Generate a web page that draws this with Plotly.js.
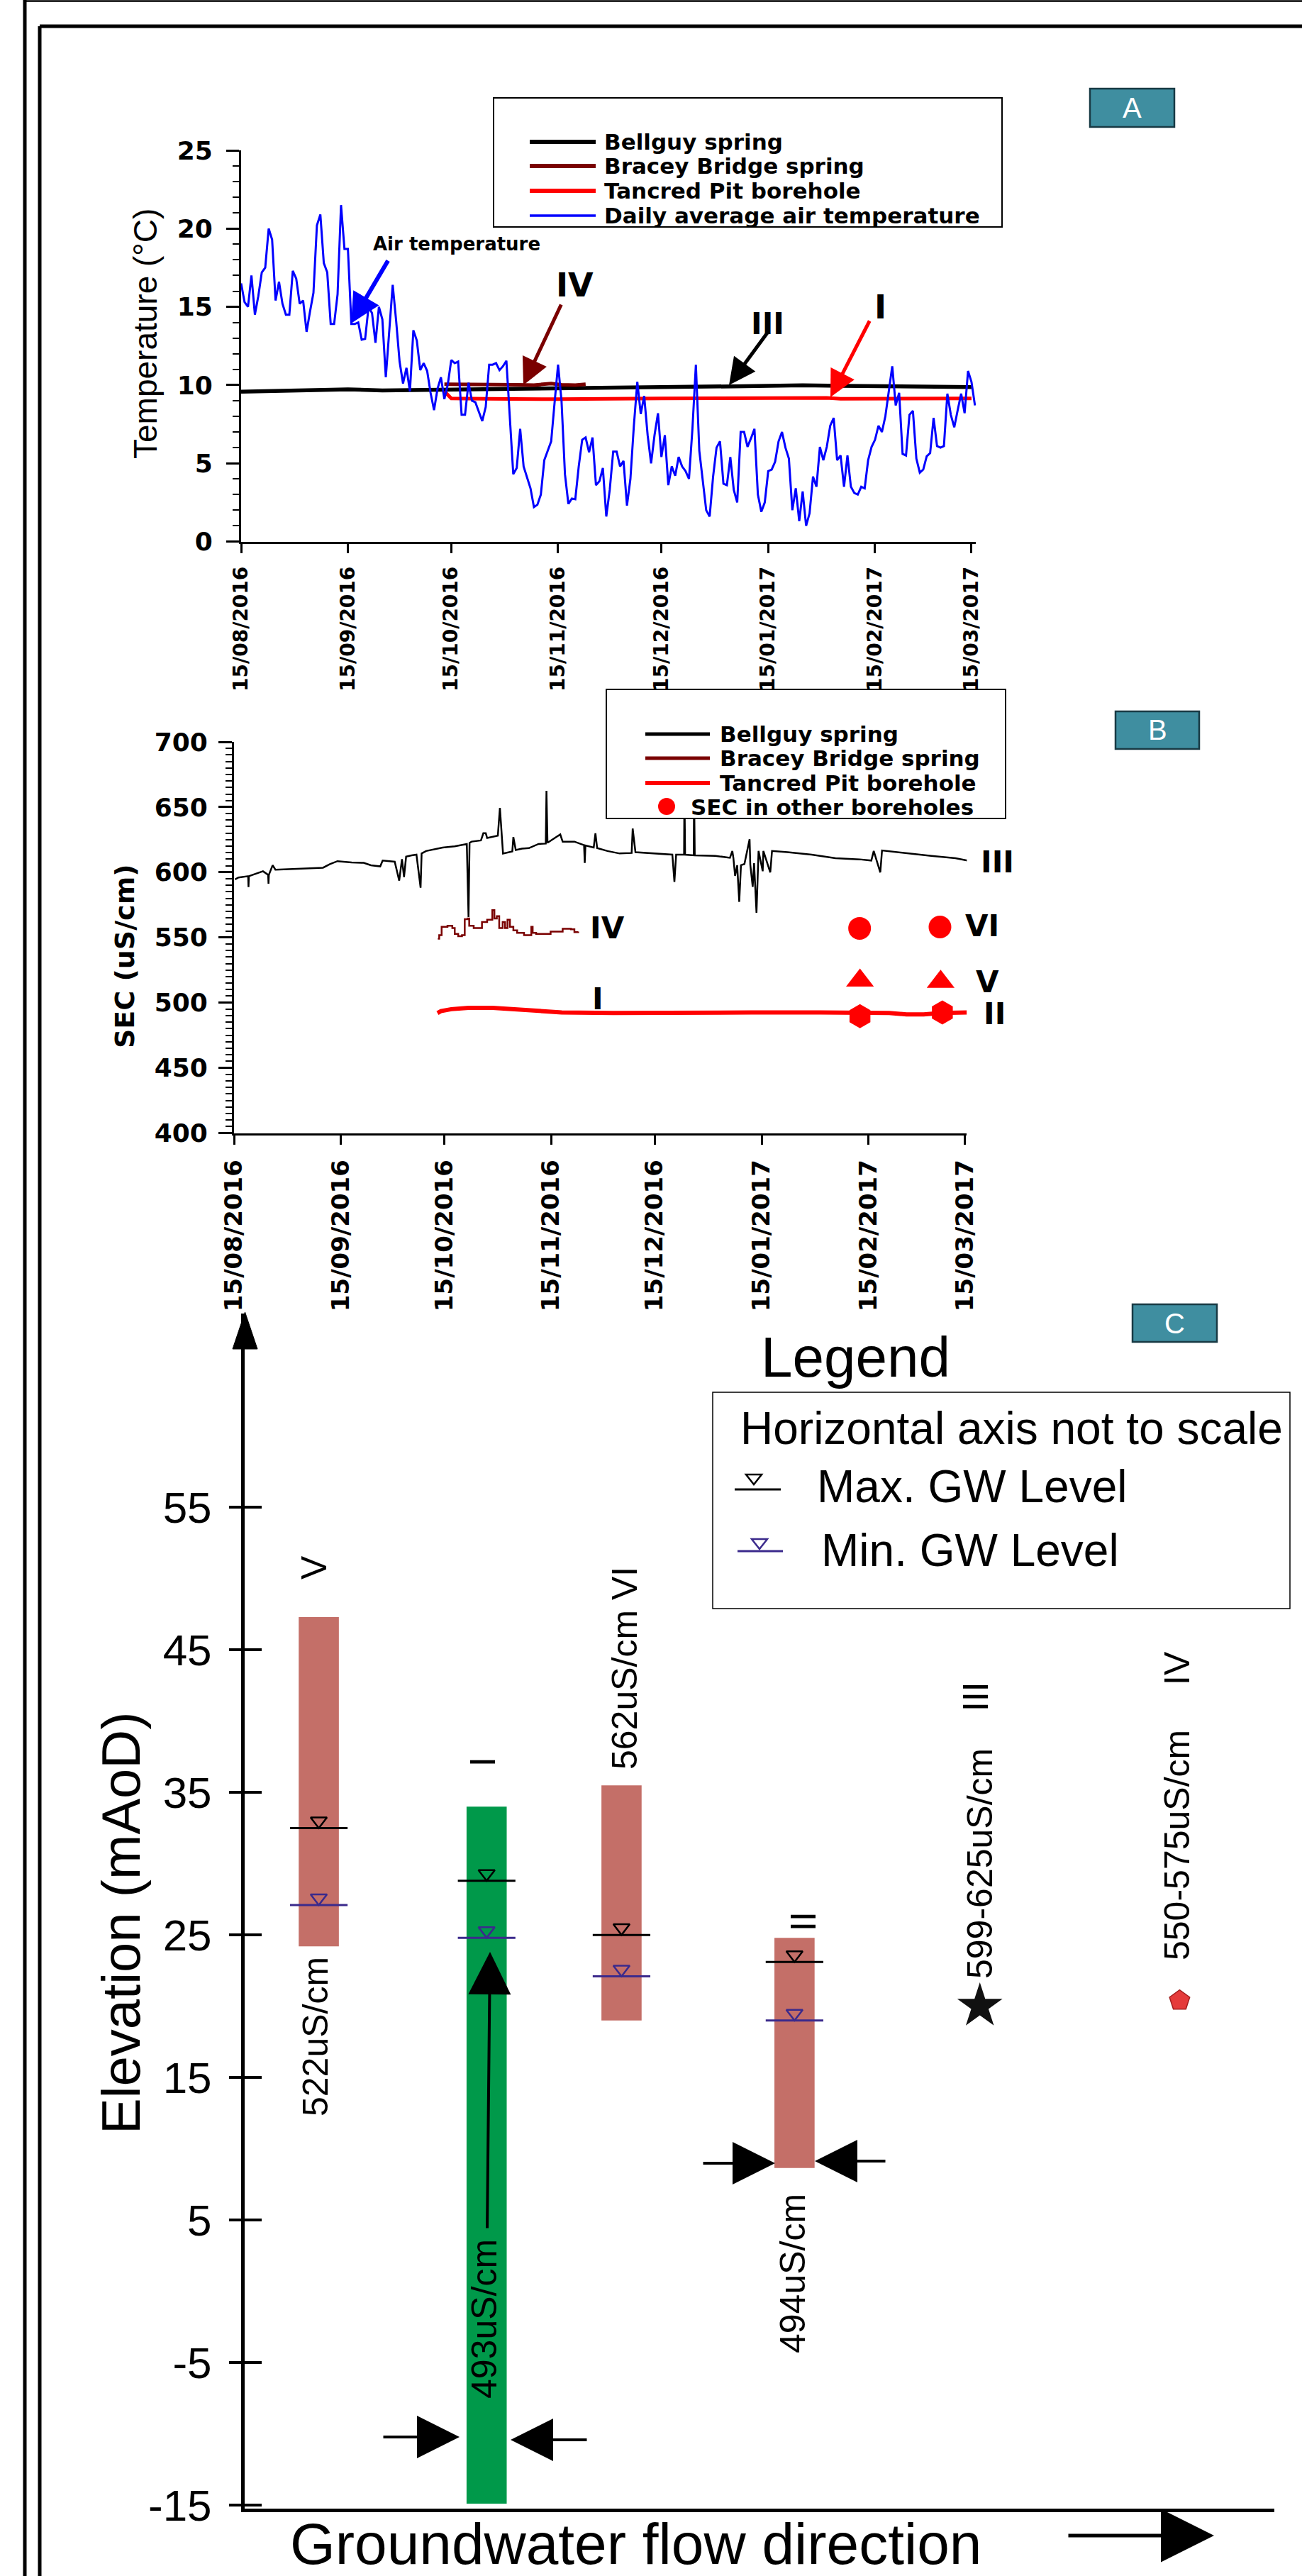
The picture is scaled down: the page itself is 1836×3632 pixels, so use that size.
<!DOCTYPE html>
<html><head><meta charset="utf-8">
<script src="https://cdn.plot.ly/plotly-3.0.1.min.js"></script>
<style>html,body{margin:0;padding:0;background:#fff}#chart{width:1836px;height:3632px}</style>
</head><body><div id="chart"></div>
<script>
// ---------------- DATA ----------------
const dateTickVals = ['2016-08-15','2016-09-15','2016-10-15','2016-11-15','2016-12-15','2017-01-15','2017-02-15','2017-03-15'];
const dateTickText = ['15/08/2016','15/09/2016','15/10/2016','15/11/2016','15/12/2016','15/01/2017','15/02/2017','15/03/2017'];

// Panel A: daily average air temperature, one value per day from 15/08/2016
const airStart = '2016-08-15';
const airTemp = [
16.5,15.3,15.0,17.0,14.5,15.7,17.2,17.5,20.0,19.3,
15.4,16.6,15.2,14.5,14.5,17.3,16.8,15.2,15.4,13.4,
14.7,15.9,20.2,20.9,17.8,17.2,13.9,13.9,15.8,21.5,
18.7,18.7,13.9,13.9,14.0,12.9,12.95,15.0,14.6,12.7,
15.0,14.2,10.5,13.5,16.4,14.1,11.5,10.1,11.1,9.6,
13.5,12.85,10.95,11.4,10.9,9.5,8.4,9.75,10.5,9.1,
10.05,11.6,11.4,11.5,8.1,8.1,10.15,9.0,8.9,8.3,
7.7,8.6,11.3,11.3,11.4,10.95,11.2,11.55,8.0,4.3,
4.7,7.2,4.8,4.1,3.4,2.2,2.35,3.0,5.2,5.8,
6.4,8.9,11.3,9.0,4.3,2.4,2.75,2.7,4.8,6.5,
6.65,5.7,6.65,3.6,3.85,4.7,1.6,3.3,5.75,5.75,
4.8,5.15,2.3,4.0,7.4,10.2,8.15,9.3,6.8,5.0,
6.8,8.2,5.4,6.8,3.6,4.8,4.2,5.4,4.8,4.5,
4.0,7.2,11.3,5.8,4.0,2.0,1.6,4.15,6.0,6.4,
3.7,3.6,5.4,3.3,2.5,7.0,7.0,6.05,6.6,7.2,
3.0,1.9,2.5,4.5,4.6,5.1,6.4,7.0,6.0,5.3,
2.0,3.4,1.3,3.2,1.0,1.8,4.15,3.5,6.05,5.2,
6.05,7.4,7.9,5.2,5.5,3.5,5.5,3.5,3.1,3.0,
3.5,3.4,5.2,6.05,6.5,7.4,7.0,8.0,9.6,11.2,
8.7,9.5,5.6,5.5,8.1,8.35,5.3,4.4,4.6,5.45,
5.65,7.9,6.1,6.0,6.1,9.45,8.1,7.3,8.4,9.45,
8.2,10.9,10.2,8.7];

const bellTempDate = ['2016-08-15','2016-08-25','2016-09-05','2016-09-15','2016-09-25','2016-10-05','2016-10-15','2016-10-25','2016-11-05','2016-11-15','2016-11-25','2016-12-05','2016-12-15','2016-12-25','2017-01-05','2017-01-15','2017-01-25','2017-02-05','2017-02-15','2017-02-25','2017-03-05','2017-03-15'];
const bellTempVal  = [9.58,9.63,9.65,9.72,9.66,9.68,9.7,9.72,9.75,9.78,9.8,9.82,9.85,9.88,9.92,9.95,9.98,9.95,9.92,9.9,9.9,9.87];

const braceyTempDate = ['2016-10-13','2016-10-20','2016-10-27','2016-11-03','2016-11-08','2016-11-13','2016-11-16','2016-11-20','2016-11-23'];
const braceyTempVal  = [10.05,10.05,10.07,10.02,10.0,10.1,10.02,10.0,10.05];

const tancredTempDate = ['2016-10-13','2016-10-15','2016-10-25','2016-11-15','2016-12-15','2017-01-15','2017-02-01','2017-02-05','2017-02-15','2017-03-01','2017-03-15'];
const tancredTempVal  = [9.6,9.15,9.12,9.1,9.15,9.17,9.18,9.12,9.12,9.15,9.15];

// Panel B: SEC (uS/cm); x = days after 15/08/2016
const bellSecDay = [0.3,1.3,4.1,4.2,4.3,8.4,9.9,10.0,10.1,11.2,12.0,18.8,25.8,27.8,30.0,34.1,37.6,39.7,42.4,43.1,46.6,47.9,48.7,49.3,49.9,51.5,52.9,54.1,54.4,55.7,60.5,64.0,67.5,68.0,68.3,68.9,71.6,72.3,73.0,73.4,76.5,77.1,78.0,80.7,81.0,81.7,83.5,85.5,88.3,90.4,90.6,90.9,94.6,95.3,98.7,101.5,101.7,101.9,104.3,104.8,105.3,108.3,111.8,115.3,115.6,116.4,122.3,127.1,127.7,128.2,130.5,130.6,130.8,133.3,133.4,133.6,139.6,143.8,144.5,144.8,145.3,145.9,146.5,147.0,148.0,149.5,149.7,150.4,150.8,151.5,152.1,153.3,153.5,155.5,156.0,160.5,167.5,174.4,181.4,184.8,185.5,187.4,187.9,195.3,202.2,209.2,212.6];
const bellSecVal = [594.5,596,597,588.6,597,600.8,598,591.3,598,605.4,602,602.6,603.5,606.2,608.5,607.5,607.2,605.4,604.5,609,608.1,593.6,610,596.3,612,613,613.5,588.1,614.4,616.3,619,619.9,621.7,565.6,622.5,623.5,624.4,629.9,629.9,626.3,628.1,649.3,614.4,616,627,617,618.1,618.5,621.7,622,662.5,622.6,629,623.5,623.5,620.8,607.2,620.5,619,629.9,618.5,616.3,614.4,614.8,633.5,615.4,614.4,613.5,592.6,613.5,613.5,665,613.5,613,665,613,612.6,611.1,616.3,611,597.2,605.4,577.3,605.4,606.3,625.3,606,588.8,607,568.9,616.3,600.8,616.3,599.9,616.3,615.4,613.5,610.8,609.9,609.0,616.3,599.9,616.7,614.4,612.6,610.8,609.0];

const braceySecDay = [59.1,59.5,60.2,61.9,63.3,64.0,65.0,66.1,66.9,67.8,68.2,69.5,71.6,71.9,73.4,74.9,75.5,76.2,76.9,77.9,78.6,79.3,80.0,81.0,82.1,84.1,86.2,86.6,87.6,91.8,95.3,97.7,98.7,99.8];
const braceySecVal = [549.1,551.8,558.1,559.0,557.2,552.7,550.9,551.8,564.0,564.5,559.0,557.2,557.2,561.8,563.6,570.9,564.5,566.3,557.2,561.8,557.2,563.6,558.1,555.4,553.6,551.8,558.1,553.6,552.7,554.5,556.7,556.3,554.1,554.5];

const tancredSecDay = [59,60,63,68,75,82,90,95,110,130,150,170,180,190,195,200,205,212.5];
const tancredSecVal = [492,493.5,495,496,496,495,493.5,492.5,492,492.5,492.5,492.5,492.5,492,491,491,492,492.5];

// SEC in other boreholes (sites VI, V, II)
const otherVIDay = [181.4,204.7];  const otherVIVal = [557,558];
const otherVDay  = [181.5,204.9];  const otherVVal  = [517,516];
const otherIIDay = [181.5,205.4];  const otherIIVal = [489.6,492.5];

// Panel C: borehole screens and groundwater levels (mAoD)
const screenSites  = ['V','I','VI','II'];
const screenPos    = [7.2,23.5,36.6,53.4];     // horizontal axis not to scale
const screenTop    = [47.3,34.0,35.5,24.8];
const screenBottom = [24.2,-14.9,19.0,8.65];
const maxGW        = [32.5,28.8,25.0,23.1];
const minGW        = [27.1,24.8,22.1,19.0];
const springSites  = ['III','IV'];
const springPos    = [71.4,90.8];
const springElev   = [20.0,20.4];
const elevTicks    = [-15,-5,5,15,25,35,45,55];
const elevTickText = ['-15','-5','5','15','25','35','45','55'];

// ---------------- HELPERS ----------------
const W = 1836, H = 3632;
const X = p => p / W;
const Y = p => 1 - p / H;
const dayToDate = d => new Date(Date.UTC(2016,7,15) + d*864e5).toISOString().slice(0,19).replace('T',' ');
const DV = 'DejaVu Sans';
const AR = 'Liberation Sans';

// ---------------- TRACES ----------------
const traces = [];
// Panel A
traces.push({type:'scatter', mode:'lines', x:bellTempDate, y:bellTempVal, xaxis:'x', yaxis:'y', line:{color:'#000', width:5.5}, name:'Bellguy spring'});
traces.push({type:'scatter', mode:'lines', x:tancredTempDate, y:tancredTempVal, xaxis:'x', yaxis:'y', line:{color:'#ff0000', width:5}, name:'Tancred Pit borehole'});
traces.push({type:'scatter', mode:'lines', x:braceyTempDate, y:braceyTempVal, xaxis:'x', yaxis:'y', line:{color:'#7a0000', width:5}, name:'Bracey Bridge spring'});
traces.push({type:'scatter', mode:'lines', x0:airStart, dx:864e5, y:airTemp, xaxis:'x', yaxis:'y', line:{color:'#0000ff', width:3}, name:'Daily average air temperature'});
// Panel B
traces.push({type:'scatter', mode:'lines', x:bellSecDay.map(dayToDate), y:bellSecVal, xaxis:'x2', yaxis:'y2', line:{color:'#000', width:2.5}, name:'Bellguy spring'});
traces.push({type:'scatter', mode:'lines', x:braceySecDay.map(dayToDate), y:braceySecVal, xaxis:'x2', yaxis:'y2', line:{color:'#7a0000', width:2.5, shape:'hv'}, name:'Bracey Bridge spring'});
traces.push({type:'scatter', mode:'lines', x:tancredSecDay.map(dayToDate), y:tancredSecVal, xaxis:'x2', yaxis:'y2', line:{color:'#ff0000', width:6}, name:'Tancred Pit borehole'});
traces.push({type:'scatter', mode:'markers', x:otherVIDay.map(dayToDate), y:otherVIVal, xaxis:'x2', yaxis:'y2', marker:{symbol:'circle', size:32, color:'#ff0000'}, name:'VI'});
traces.push({type:'scatter', mode:'markers', x:otherVDay.map(dayToDate), y:otherVVal, xaxis:'x2', yaxis:'y2', marker:{symbol:'triangle-up', size:34, color:'#ff0000'}, name:'V'});
traces.push({type:'scatter', mode:'markers', x:otherIIDay.map(dayToDate), y:otherIIVal, xaxis:'x2', yaxis:'y2', marker:{symbol:'hexagon', size:34, color:'#ff0000'}, name:'II'});
// Panel C
traces.push({type:'bar', x:screenPos, y:screenTop.map((t,i)=>t-screenBottom[i]), base:screenBottom, width:3.9, xaxis:'x3', yaxis:'y3',
  marker:{color:['#c46f68','#00994a','#c46f68','#c46f68'], line:{width:0}}, text:screenSites, textposition:'none', name:'screen'});
traces.push({type:'scatter', mode:'markers', x:screenPos, y:maxGW, xaxis:'x3', yaxis:'y3', marker:{symbol:'line-ew', size:58, color:'#000', line:{color:'#000', width:3}}, name:'Max. GW Level'});
traces.push({type:'scatter', mode:'markers', x:screenPos, y:minGW, xaxis:'x3', yaxis:'y3', marker:{symbol:'line-ew', size:58, color:'#3b2a8c', line:{color:'#3b2a8c', width:3}}, name:'Min. GW Level'});
const triOff = 0.5;
traces.push({type:'scatter', mode:'markers', x:screenPos, y:maxGW.map(v=>v+triOff), xaxis:'x3', yaxis:'y3', marker:{symbol:'triangle-down-open', size:20, color:'#000', line:{color:'#000', width:2.5}}, name:'max tri'});
traces.push({type:'scatter', mode:'markers', x:screenPos, y:minGW.map(v=>v+triOff), xaxis:'x3', yaxis:'y3', marker:{symbol:'triangle-down-open', size:20, color:'#3b2a8c', line:{color:'#3b2a8c', width:2.5}}, name:'min tri'});
traces.push({type:'scatter', mode:'markers', x:[springPos[0]], y:[springElev[0]], xaxis:'x3', yaxis:'y3', marker:{symbol:'star', size:48, color:'#111'}, name:'III'});
traces.push({type:'scatter', mode:'markers', x:[springPos[1]], y:[springElev[1]], xaxis:'x3', yaxis:'y3', marker:{symbol:'pentagon', size:30, color:'#e53b3b', line:{color:'#a31f1f', width:1.5}}, name:'IV'});
traces.push({type:'scatter', mode:'markers', x:[screenPos[0]], y:[screenBottom[0]], xaxis:'x3', yaxis:'y4', marker:{opacity:0}, hoverinfo:'skip', name:'tick helper'});

// ---------------- LAYOUT ----------------
const dateAxis = (dom, rng, anchor, fs) => ({type:'date', domain:dom, range:rng, anchor:anchor, tickmode:'array', tickvals:dateTickVals, ticktext:dateTickText,
  tickangle:-90, ticks:'outside', ticklen:13, tickwidth:3, tickcolor:'#000', showline:true, linewidth:3, linecolor:'#000',
  showgrid:false, zeroline:false, tickfont:{family:DV, size:fs, weight:700, color:'#000'}, ticklabelstandoff:8, fixedrange:true});

const shapes = [];
const line = (x0,y0,x1,y1,w,c) => shapes.push({type:'line', xref:'paper', yref:'paper', x0:X(x0), y0:Y(y0), x1:X(x1), y1:Y(y1), line:{color:c||'#000', width:w}, layer:'above'});
const rect = (x0,y0,x1,y1,fill,lc,lw) => shapes.push({type:'rect', xref:'paper', yref:'paper', x0:X(x0), y0:Y(y0), x1:X(x1), y1:Y(y1), fillcolor:fill, line:{color:lc, width:lw}, layer:'above'});

// outer frame
line(35,0,35,H,5); line(35,1.5,W,1.5,2.5); line(56,37,56,H,5); line(56,37,W,37,5);

// legend A
rect(696,138,1413,320,'#fff','#000',2);
[[200,'#000',6],[234,'#7a0000',6],[269,'#ff0000',6],[304,'#0000ff',3.5]].forEach(a=>line(747,a[0],840,a[0],a[2],a[1]));
// legend B
rect(855,972,1418,1154,'#fff','#000',2);
[[1035,'#000',5],[1069,'#7a0000',5],[1104,'#ff0000',6]].forEach(a=>line(910,a[0],1001,a[0],a[2],a[1]));
shapes.push({type:'circle', xref:'paper', yref:'paper', x0:X(928), x1:X(952), y0:Y(1125), y1:Y(1149), fillcolor:'#ff0000', line:{width:0}, layer:'above'});
// legend C
rect(1005,1963,1819,2268,'rgba(0,0,0,0)','#000',1.5);
line(1036,2100,1101,2100,3,'#000');
shapes.push({type:'path', xref:'paper', yref:'paper', path:`M${X(1052)},${Y(2079)} L${X(1074)},${Y(2079)} L${X(1063)},${Y(2093)} Z`, line:{color:'#000', width:2.5}, layer:'above'});
line(1040,2187,1104,2187,3,'#3b2a8c');
shapes.push({type:'path', xref:'paper', yref:'paper', path:`M${X(1060)},${Y(2170)} L${X(1082)},${Y(2170)} L${X(1071)},${Y(2184)} Z`, line:{color:'#3b2a8c', width:2.5}, layer:'above'});
// panel labels
rect(1537,125,1656,179,'#3f8ea0','#183a44',2.5);
rect(1573,1003,1691,1056,'#3f8ea0','#183a44',2.5);
rect(1597,1839,1716,1892,'#3f8ea0','#183a44',2.5);
// C y-axis arrowhead
shapes.push({type:'path', xref:'paper', yref:'paper', path:`M${X(345.5)},${Y(1850)} L${X(328)},${Y(1902)} L${X(363)},${Y(1902)} Z`, fillcolor:'#000', line:{color:'#000', width:1}, layer:'above'});

const annotations = [];
const txt = (t,x,y,size,opt={}) => annotations.push(Object.assign({text:t, x:X(x), y:Y(y), xref:'paper', yref:'paper', showarrow:false,
  xanchor:'center', yanchor:'middle', font:{family:opt.family||DV, size:size, color:opt.color||'#000', weight:opt.weight||400}}, opt.extra||{}));
const arr = (tx,ty,sx,sy,w,s,c,head) => annotations.push({text:'', x:X(tx), y:Y(ty), xref:'paper', yref:'paper', showarrow:true,
  ax:sx-tx, ay:sy-ty, axref:'pixel', ayref:'pixel', arrowhead:head||2, arrowsize:s, arrowwidth:w, arrowcolor:c, standoff:0});

// Panel A annotations
txt('Temperature (°C)',205,471,46,{family:AR, extra:{textangle:-90}});
txt('Air temperature',644,344,26,{weight:700});
txt('IV',810,402,46,{weight:700});
txt('III',1082,457,42,{weight:700});
txt('I',1241,433,46,{weight:700});
arr(495,456,548,366,6,1.4,'#0000ff');
arr(738,543,792,428,5,1.5,'#7a0000');
arr(1028,543,1083,468,5,1.5,'#000');
arr(1171,560,1227,451,5,1.5,'#ff0000');
['Bellguy spring','Bracey Bridge spring','Tancred Pit borehole','Daily average air temperature'].forEach((t,i)=>
  txt(t,850,[200,234,269,304][i],31,{weight:700, extra:{xanchor:'left'}}));
txt('A',1596,152,40,{family:AR, color:'#fff'});

// Panel B annotations
txt('SEC (uS/cm)',176,1348,38,{family:DV, weight:700, extra:{textangle:-90}});
txt('III',1406,1216,42,{weight:700});
txt('IV',856,1309,42,{weight:700});
txt('VI',1385,1305,42,{weight:700});
txt('V',1392,1385,42,{weight:700});
txt('II',1402,1429,42,{weight:700});
txt('I',843,1408,42,{weight:700});
['Bellguy spring','Bracey Bridge spring','Tancred Pit borehole'].forEach((t,i)=>
  txt(t,1013,[1035,1069,1104][i],31,{weight:700, extra:{xanchor:'left'}}));
txt('SEC in other boreholes',972,1138,31,{weight:700, extra:{xanchor:'left'}});
txt('B',1632,1029,40,{family:AR, color:'#fff'});

// Panel C annotations
const rot = {textangle:-90};
txt('Elevation (mAoD)',170,2711,76,{family:AR, extra:rot});
txt('Groundwater flow direction',896,3586,82,{family:AR});
arr(1712,3575,1505,3575,5,3,'#000');
txt('V',443,2210,50,{family:AR, extra:rot});
txt('522uS/cm',445,2872,50,{family:AR, extra:rot});
txt('I',681,2484,50,{family:AR, extra:rot});
txt('493uS/cm',683,3270,50,{family:AR, extra:rot});
txt('562uS/cm VI',881,2352,50,{family:AR, extra:rot});
txt('II',1133,2709,50,{family:AR, extra:rot});
txt('494uS/cm',1118,3206,50,{family:AR, extra:rot});
txt('III',1376,2392,50,{family:AR, extra:rot});
txt('599-625uS/cm',1382,2628,50,{family:AR, extra:rot});
txt('IV',1660,2352,50,{family:AR, extra:rot});
txt('550-575uS/cm',1660,2602,50,{family:AR, extra:rot});
arr(691,2752,687,3143,4,3,'#000');
arr(648,3436,539,3436,4,3,'#000');
arr(720,3440,829,3440,4,3,'#000');
arr(1093,3050,990,3050,4,3,'#000');
arr(1149,3047,1250,3047,4,3,'#000');
txt('Legend',1206,1913,80,{family:AR});
txt('Horizontal axis not to scale',1042,2014,64,{family:AR, extra:{xanchor:'left'}});
txt('Max. GW Level',1150,2096,64,{family:AR, extra:{xanchor:'left'}});
txt('Min. GW Level',1156,2186,64,{family:AR, extra:{xanchor:'left'}});
txt('C',1656,1866,40,{family:AR, color:'#fff'});

const ytf = {family:DV, size:36, weight:700, color:'#000'};
const layout = {
  width:W, height:H, margin:{l:0,r:0,t:0,b:0,autoexpand:false}, showlegend:false,
  paper_bgcolor:'#fff', plot_bgcolor:'rgba(0,0,0,0)',
  xaxis: dateAxis([X(340),X(1376)], ['2016-08-15','2017-03-16 06:00'], 'y', 28),
  yaxis: {domain:[Y(763.5),Y(212)], range:[0,25], anchor:'x', dtick:5, tick0:0, ticks:'outside', ticklen:18, tickwidth:3, tickcolor:'#000',
    minor:{dtick:1, tick0:0, ticks:'outside', ticklen:9, tickwidth:2, tickcolor:'#000', showgrid:false},
    showline:true, linewidth:3, linecolor:'#000', showgrid:false, zeroline:false, tickfont:ytf, ticklabelstandoff:12, fixedrange:true},
  xaxis2: dateAxis([X(330),X(1363.4)], ['2016-08-15','2017-03-15 12:00'], 'y2', 34),
  yaxis2: {domain:[Y(1597.5),Y(1046)], range:[400,700], anchor:'x2', dtick:50, tick0:400, ticks:'outside', ticklen:19, tickwidth:3, tickcolor:'#000',
    minor:{dtick:5, tick0:400, ticks:'outside', ticklen:9, tickwidth:2, tickcolor:'#000', showgrid:false},
    showline:true, linewidth:3, linecolor:'#000', showgrid:false, zeroline:false, tickfont:ytf, ticklabelstandoff:8, fixedrange:true},
  xaxis3: {domain:[X(345),X(1797)], range:[0,100], anchor:'y3', showline:true, linewidth:5, linecolor:'#000', ticks:'', showticklabels:false, showgrid:false, zeroline:false, fixedrange:true},
  yaxis3: {domain:[Y(3537),Y(1852)], range:[-15.25,68.6], anchor:'x3', tickmode:'array', tickvals:elevTicks, ticktext:elevTickText, ticks:'outside', ticklen:17, tickwidth:4, tickcolor:'#000',
    showline:true, linewidth:5, linecolor:'#000', showgrid:false, zeroline:false, tickfont:{family:AR, size:62, color:'#000'}, ticklabelstandoff:12, fixedrange:true},
  yaxis4: {overlaying:'y3', range:[-15.25,68.6], anchor:'x3', tickmode:'array', tickvals:elevTicks, ticks:'inside', ticklen:24, tickwidth:4, tickcolor:'#000',
    showline:false, showgrid:false, zeroline:false, showticklabels:false, fixedrange:true},
  shapes:shapes, annotations:annotations
};

Plotly.newPlot('chart', traces, layout, {displayModeBar:false, staticPlot:true});
</script></body></html>
